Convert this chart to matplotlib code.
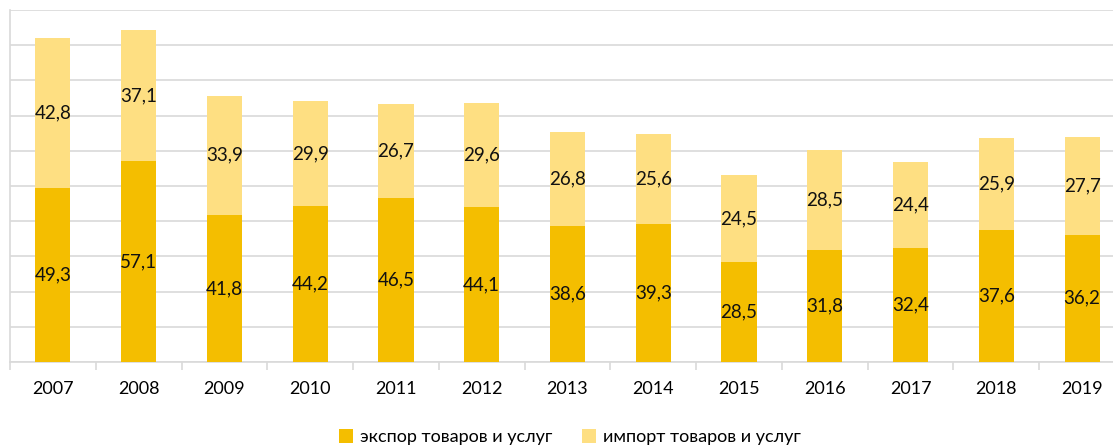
import numpy as np
import matplotlib.pyplot as plt

plt.rcParams['font.family'] = ['Lato', 'DejaVu Sans']

years = ['2007', '2008', '2009', '2010', '2011', '2012', '2013',
         '2014', '2015', '2016', '2017', '2018', '2019']
export = [49.3, 57.1, 41.8, 44.2, 46.5, 44.1, 38.6, 39.3, 28.5, 31.8, 32.4, 37.6, 36.2]
imports = [42.8, 37.1, 33.9, 29.9, 26.7, 29.6, 26.8, 25.6, 24.5, 28.5, 24.4, 25.9, 27.7]

c_exp = '#F4BE00'
c_imp = '#FEDF82'
grid_c = '#D9D9D9'

W, H = 1113, 447
fig = plt.figure(figsize=(W / 100, H / 100), dpi=100)
# plot area runs a little past the right edge of the picture, as in the source
ax = fig.add_axes([10 / W, (H - 362) / H, 1115 / W, 352 / H])

x = np.arange(len(years))
b1 = ax.bar(x, export, width=0.41, color=c_exp, label='экспор товаров и услуг', zorder=3)
b2 = ax.bar(x, imports, width=0.41, bottom=export, color=c_imp,
            label='импорт товаров и услуг', zorder=3)

for i in range(len(years)):
    ax.text(x[i], export[i] / 2, f'{export[i]:.1f}'.replace('.', ','),
            ha='center', va='center', fontsize=13.5, color='#111111', zorder=4)
    ax.text(x[i], export[i] + imports[i] / 2, f'{imports[i]:.1f}'.replace('.', ','),
            ha='center', va='center', fontsize=13.5, color='#111111', zorder=4)

ax.set_xlim(-0.5, len(years) - 0.5)
ax.set_ylim(0, 100)
ax.set_yticks(np.arange(0, 101, 10))
ax.yaxis.grid(True, color=grid_c, linewidth=1.2)
ax.set_axisbelow(True)
ax.tick_params(axis='y', left=False, labelleft=False)

ax.set_xticks(x)
ax.set_xticklabels(years, fontsize=13)
ax.tick_params(axis='x', which='major', length=0, pad=14)
ax.set_xticks(np.arange(-0.5, len(years), 1), minor=True)
ax.tick_params(axis='x', which='minor', length=6, color=grid_c, width=1.2)

for s in ['top', 'right']:
    ax.spines[s].set_visible(False)
for s in ['left', 'bottom']:
    ax.spines[s].set_color(grid_c)
    ax.spines[s].set_linewidth(1.2)

fig.legend(handles=[b1, b2], loc='center', bbox_to_anchor=(570 / W, 10 / H),
           ncol=2, frameon=False, fontsize=13, handlelength=0.8, handleheight=0.8,
           columnspacing=1.6, handletextpad=0.4)

fig.savefig('out.png', dpi=100)
